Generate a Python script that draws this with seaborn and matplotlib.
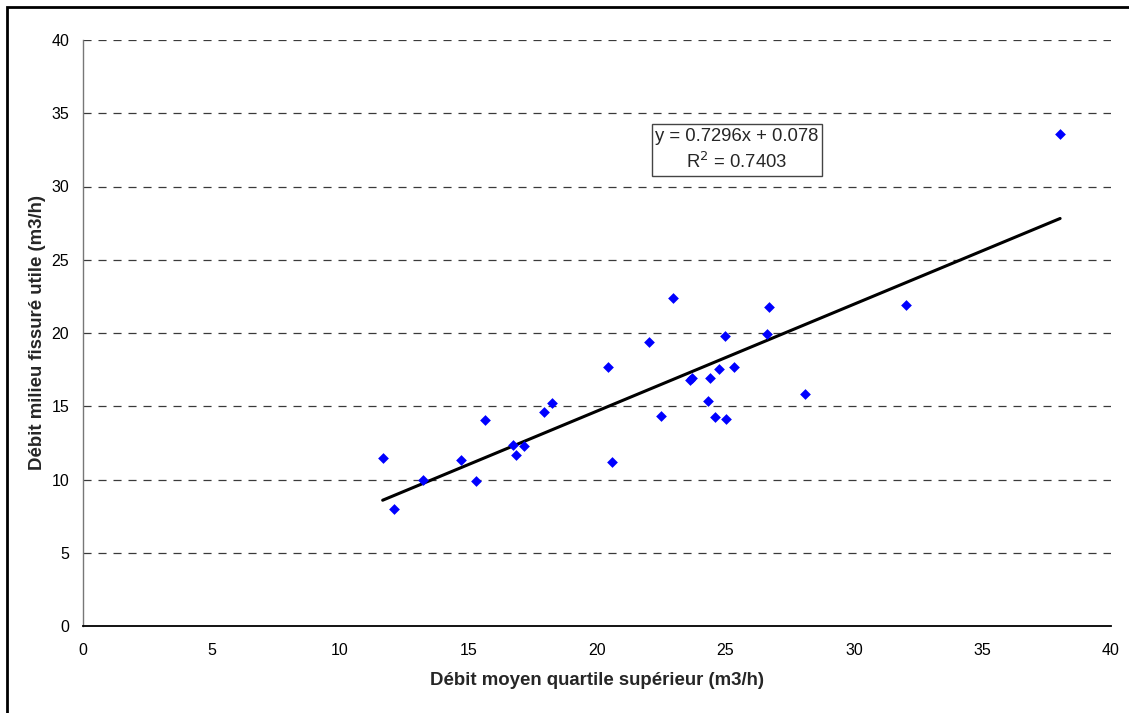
import matplotlib
matplotlib.use("Agg")
import matplotlib.pyplot as plt
import seaborn as sns
import numpy as np
import pandas as pd
from matplotlib.patches import Rectangle

# Mean flow of the upper quartile (x) vs useful fissured-medium flow (y), m3/h
debit_moyen = [11.66, 12.09, 13.23, 14.72, 15.29, 15.66, 16.74, 16.85, 17.16, 17.92,
               18.26, 20.57, 20.44, 22.01, 22.97, 22.49, 23.62, 23.70, 24.40, 24.75,
               25.32, 24.32, 24.60, 25.00, 24.98, 26.61, 26.68, 28.08, 32.01, 38.02]
debit_fissure = [11.49, 8.01, 9.94, 11.31, 9.90, 14.06, 12.33, 11.69, 12.27, 14.59,
                 15.22, 11.22, 17.68, 19.41, 22.41, 14.33, 16.80, 16.90, 16.93, 17.54,
                 17.66, 15.34, 14.27, 14.15, 19.80, 19.95, 21.78, 15.84, 21.89, 33.58]

# Linear trend (as reported on the chart)
pente = 0.7296
ordonnee = 0.078
r2 = 0.7403

x_ticks = [0, 5, 10, 15, 20, 25, 30, 35, 40]
y_ticks = [0, 5, 10, 15, 20, 25, 30, 35, 40]

sns.set_style("white")
plt.rcParams["font.family"] = ["Liberation Sans", "DejaVu Sans"]
plt.rcParams["lines.scale_dashes"] = False

df = pd.DataFrame({"x": debit_moyen, "y": debit_fissure})
x_fit = np.array([min(debit_moyen), max(debit_moyen)])
df_fit = pd.DataFrame({"x": x_fit, "y": pente * x_fit + ordonnee})

fig = plt.figure(figsize=(11.29, 7.13), dpi=100)
ax = fig.add_axes([83 / 1129, 1 - 626 / 713, (1111 - 83) / 1129, (626 - 40) / 713])

# Dashed horizontal gridlines
for yv in y_ticks[1:]:
    ax.axhline(yv, color="#3a3a3a", lw=0.9, linestyle=(0, (5.8, 5.0)), zorder=1)

sns.lineplot(data=df_fit, x="x", y="y", ax=ax, color="black", lw=2.2, zorder=3)
sns.scatterplot(data=df, x="x", y="y", ax=ax, marker="D", s=30, color="#0000FF",
                linewidth=0, zorder=4)

ax.set_xlim(0, 40)
ax.set_ylim(0, 40)
ax.set_xticks(x_ticks)
ax.set_yticks(y_ticks)
ax.tick_params(axis="both", direction="out", length=5, width=0.8, labelsize=11.5,
               colors="black", pad=4)
ax.tick_params(axis="y", color="#666666", pad=5)
ax.tick_params(axis="x", pad=7)

for side in ["top", "right"]:
    ax.spines[side].set_visible(False)
ax.spines["bottom"].set_color("black")
ax.spines["bottom"].set_linewidth(1.3)
ax.spines["left"].set_color("#777777")
ax.spines["left"].set_linewidth(1.0)

ax.set_xlabel("Débit moyen quartile supérieur (m3/h)", fontsize=13.4, fontweight="bold",
              labelpad=10)
ax.set_ylabel("Débit milieu fissuré utile (m3/h)", fontsize=13.4, fontweight="bold",
              labelpad=4)

ax.text(25.45, 32.5, f"y = {pente}x + {ordonnee}\nR$^2$ = {r2}", ha="center",
        va="center", fontsize=13.3, linespacing=1.45, zorder=5,
        bbox=dict(boxstyle="square,pad=0.2", facecolor="white", edgecolor="#444444",
                  linewidth=1.0))

# Outer frame of the chart area
fig.patches.append(Rectangle((7 / 1129, -0.05), 1.1, 1 - 7 / 713 + 0.05,
                             transform=fig.transFigure, fill=False,
                             edgecolor="black", linewidth=2.0))

fig.savefig("out.png", dpi=100)
